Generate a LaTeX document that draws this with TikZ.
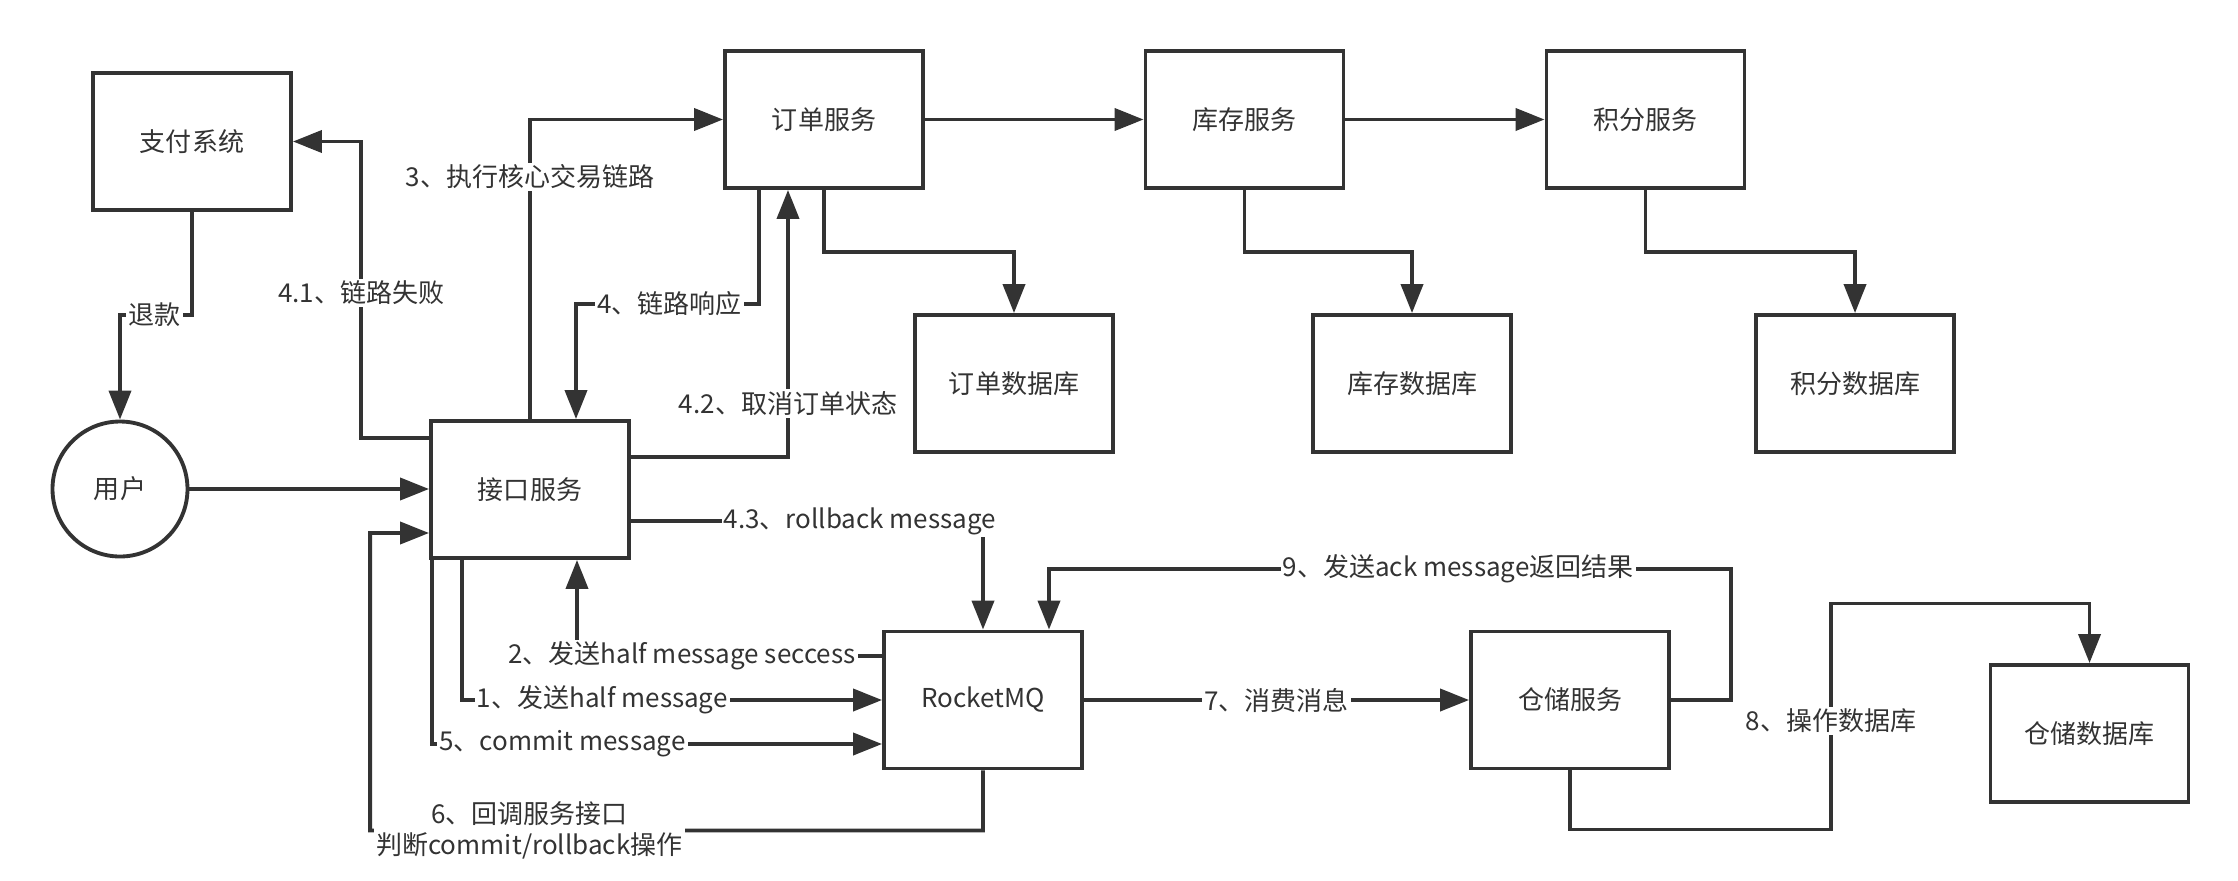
\documentclass[tikz,border=0pt]{standalone}
\usepackage{fontspec}
\setmainfont{Noto Sans CJK SC}
\usetikzlibrary{arrows.meta,calc}
\definecolor{ink}{RGB}{51,51,51}
\tikzset{
  box/.style={draw=ink, line width=1.1pt, fill=white, minimum width=1.98cm, minimum height=1.37cm, inner sep=0pt, text=ink, font=\fontsize{7.4}{8.8}\selectfont},
  conn/.style={draw=ink, line width=1.1pt, -{Triangle[length=2.9mm,width=2.2mm]}},
  lbl/.style={fill=white, text=ink, inner sep=0.6pt, font=\fontsize{7.4}{8.8}\selectfont},
}

\begin{document}
\begin{tikzpicture}
	%%%%% FRAME %%%%%
	\useasboundingbox (0,0) rectangle (22.38,-8.80);
	
	%%%%% BOXES %%%%%
	\node[box] (pay) at (1.92,-1.415) {支付系统};
	\node[box] (order) at (8.24,-1.195) {订单服务};
	\node[box] (stock) at (12.445,-1.195) {库存服务};
	\node[box] (points) at (16.455,-1.195) {积分服务};
	\node[box] (orderdb) at (10.14,-3.835) {订单数据库};
	\node[box] (stockdb) at (14.12,-3.835) {库存数据库};
	\node[box] (pointsdb) at (18.55,-3.835) {积分数据库};
	\node[box, circle, minimum size=1.35cm] (user) at (1.20,-4.89) {用户};
	\node[box] (api) at (5.30,-4.895) {接口服务};
	\node[box] (mq) at (9.83,-7.00) {RocketMQ};
	\node[box] (wms) at (15.70,-7.00) {仓储服务};
	\node[box] (wmsdb) at (20.895,-7.335) {仓储数据库};
	
	%%%%% CORE CHAIN %%%%%
	\draw[conn] (user) -- (user -| api.west);
	\draw[conn] (api.north) |- node[lbl, pos=0.404]{3、执行核心交易链路} (order.west);
	\draw[conn] ([yshift=5.15mm]api.west) -- ++(-0.68,0) |- node[lbl, pos=0.245]{4.1、链路失败} (pay.east);
	\draw[conn] (pay.south) -- ++(0,-1.03) -| node[lbl, pos=0.26]{退款} (user.north);
	\draw[conn] ([xshift=-6.5mm]order.south) -- ++(0,-1.14) -| node[lbl, pos=0.245]{4、链路响应} ([xshift=4.6mm]api.north);
	\draw[conn] ([yshift=3.25mm]api.east) -| node[lbl, pos=0.6]{4.2、取消订单状态} ([xshift=-3.6mm]order.south);
	\draw[conn] (order) -- (stock);
	\draw[conn] (stock) -- (points);
	\draw[conn] (order.south) -- ++(0,-0.62) -| (orderdb.north);
	\draw[conn] (stock.south) -- ++(0,-0.62) -| (stockdb.north);
	\draw[conn] (points.south) -- ++(0,-0.62) -| (pointsdb.north);
	
	%%%%% TRANSACTION MESSAGE %%%%%
	\draw[conn] ([yshift=-3.15mm]api.east) -| node[lbl, pos=0.325]{4.3、rollback message} (mq.north);
	\draw[conn] ([xshift=-6.8mm]api.south) |- node[lbl, pos=0.667]{1、发送half message} (mq.west);
	\draw[conn] ([xshift=-9.8mm]api.south) |- node[lbl, pos=0.645]{5、commit message} ([yshift=-4.4mm]mq.west);
	\draw[conn] ([yshift=4.4mm]mq.west) -| node[lbl, pos=0.328]{2、发送half message seccess} ([xshift=4.7mm]api.south);
	\draw[conn] (mq.south) -- ++(0,-0.60) -| node[lbl, pos=0.37, align=center]{6、回调服务接口\\判断commit/rollback操作} ($(api.west)+(-0.59,-0.435)$) -- ([yshift=-4.35mm]api.west);
	
	%%%%% CONSUMER %%%%%
	\draw[conn] (mq) -- node[lbl]{7、消费消息} (wms);
	\draw[conn] (wms.east) -- ++(0.6,0) -- ++(0,1.31) -| node[lbl, pos=0.2]{9、发送ack message返回结果} ([xshift=6.6mm]mq.north);
	\draw[conn] (wms.south) -- ++(0,-0.59) -- ++(2.61,0) -- node[lbl, pos=0.48]{8、操作数据库} ++(0,2.26) -| (wmsdb.north);
\end{tikzpicture}
\end{document}
